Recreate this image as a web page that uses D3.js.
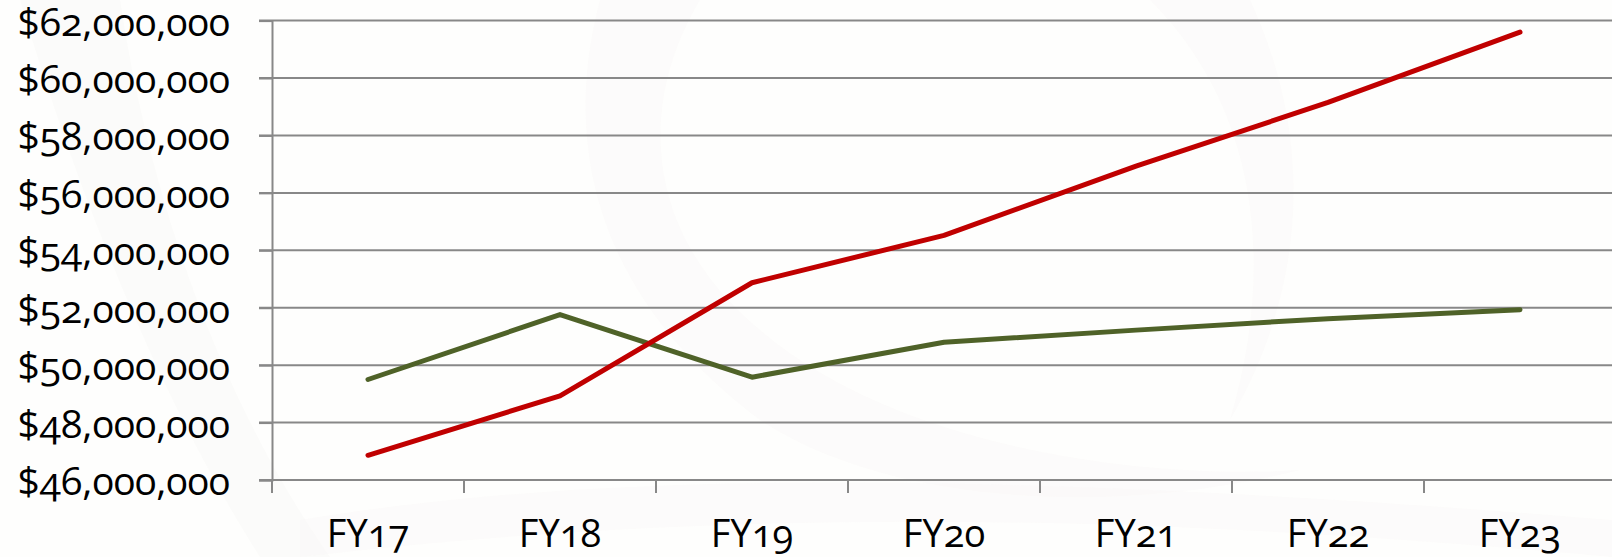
<!DOCTYPE html>
<html><head><meta charset="utf-8">
<script src="https://cdn.jsdelivr.net/npm/d3@7"></script>
<style>
html,body{margin:0;padding:0;background:#fefefd;}
svg{display:block;}
text{font-family:"Open Sans","Noto Sans",sans-serif;font-variant-numeric:oldstyle-nums;font-feature-settings:"onum" 1;fill:#000;}
</style></head><body>
<svg id="c" width="1612" height="557"></svg>
<script>
const categories = ["FY17","FY18","FY19","FY20","FY21","FY22","FY23"];
const redSeries = [46860000, 48930000, 52870000, 54520000, 56930000, 59150000, 61600000];
const greenSeries = [49500000, 51760000, 49580000, 50800000, 51220000, 51620000, 51930000];
const yTicks = [46000000,48000000,50000000,52000000,54000000,56000000,58000000,60000000,62000000];

const svg = d3.select("#c");
const W = 1612, H = 557;
const plotLeft = 272, plotTop = 20.6, plotBottom = 480;
const band = 192;

// faint background watermark shapes
const bg = svg.append("g");
bg.append("rect").attr("width",W).attr("height",H).attr("fill","#fefefd");
const wm = "#f8f7f5";
bg.append("path").attr("d","M20,0 C80,200 160,400 260,557 L330,557 C220,400 150,200 120,0 Z").attr("fill",wm).attr("opacity",0.4);
bg.append("path").attr("d","M600,0 C560,150 600,300 760,420 C880,500 1100,520 1300,470 C1150,480 900,450 760,330 C640,230 640,100 700,0 Z").attr("fill",wm).attr("opacity",0.35);
bg.append("path").attr("d","M1150,0 C1250,100 1280,250 1230,420 C1300,300 1320,150 1250,0 Z").attr("fill",wm).attr("opacity",0.35);
bg.append("path").attr("d","M300,520 C600,470 1000,470 1612,520 L1612,557 C1100,510 700,510 300,557 Z").attr("fill",wm).attr("opacity",0.35);

const x = d3.scaleBand().domain(categories).range([plotLeft, plotLeft + band*categories.length]).paddingInner(0).paddingOuter(0);
const y = d3.scaleLinear().domain([46000000, 62000000]).range([plotBottom, plotTop]);

const gridColor = "#888888";
svg.append("g").selectAll("line").data(yTicks).join("line")
  .attr("x1", plotLeft-13).attr("x2", W).attr("y1", d=>y(d)).attr("y2", d=>y(d))
  .attr("stroke", gridColor).attr("stroke-width", 2);

const fmt = d3.format("$,.0f");
const yAxis = svg.append("g").attr("transform",`translate(${plotLeft},0)`)
  .call(d3.axisLeft(y).tickValues(yTicks).tickFormat(fmt).tickSize(13).tickPadding(29));
yAxis.select(".domain").attr("stroke",gridColor).attr("stroke-width",2);
yAxis.selectAll(".tick line").attr("stroke",gridColor).attr("stroke-width",2);
yAxis.selectAll(".tick text").attr("font-size",39).attr("font-family",null).attr("dy","0.37em");

const xAxis = svg.append("g").attr("transform",`translate(0,${plotBottom})`)
  .call(d3.axisBottom(x).tickSize(0).tickPadding(40));
xAxis.select(".domain").remove();
xAxis.selectAll(".tick text").attr("font-size",38).attr("font-family",null);
svg.append("g").selectAll("line").data(categories).join("line")
  .attr("x1", d=>x(d)).attr("x2", d=>x(d)).attr("y1", plotBottom).attr("y2", plotBottom+13)
  .attr("stroke", gridColor).attr("stroke-width", 2);

const line = d3.line().x((d,i)=>x(categories[i]) + x.bandwidth()/2).y(d=>y(d));
svg.append("path").datum(greenSeries).attr("d", line).attr("fill","none")
  .attr("stroke","#4f6228").attr("stroke-width",5).attr("stroke-linecap","round").attr("stroke-linejoin","round");
svg.append("path").datum(redSeries).attr("d", line).attr("fill","none")
  .attr("stroke","#c00000").attr("stroke-width",5).attr("stroke-linecap","round").attr("stroke-linejoin","round");
</script>
</body></html>
